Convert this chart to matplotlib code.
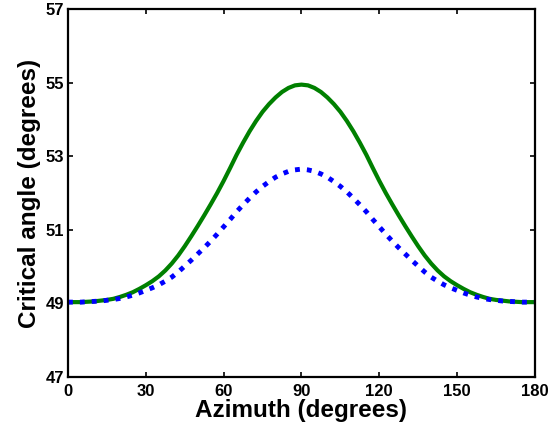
import matplotlib
matplotlib.use('Agg')
import matplotlib.pyplot as plt
import numpy as np

# azimuth in degrees, critical angle
azimuth = [0, 2.5, 5, 7.5, 10, 12.5, 15, 17.5, 20, 22.5, 25, 27.5, 30, 32.5, 35, 37.5,
           40, 42.5, 45, 47.5, 50, 52.5, 55, 57.5, 60, 62.5, 65, 67.5, 70, 72.5, 75,
           77.5, 80, 82.5, 85, 87.5, 90, 92.5, 95, 97.5, 100, 102.5, 105, 107.5, 110,
           112.5, 115, 117.5, 120, 122.5, 125, 127.5, 130, 132.5, 135, 137.5, 140,
           142.5, 145, 147.5, 150, 152.5, 155, 157.5, 160, 162.5, 165, 167.5, 170,
           172.5, 175, 177.5, 180]
green_angle = [49.03, 49.03, 49.03, 49.04, 49.05, 49.07, 49.09, 49.12, 49.17, 49.23,
               49.30, 49.39, 49.49, 49.60, 49.73, 49.89, 50.08, 50.30, 50.55, 50.82,
               51.10, 51.39, 51.69, 52.00, 52.33, 52.68, 53.04, 53.37, 53.68, 53.96,
               54.21, 54.42, 54.60, 54.75, 54.86, 54.93, 54.95, 54.93, 54.86, 54.75,
               54.60, 54.42, 54.21, 53.96, 53.68, 53.37, 53.04, 52.68, 52.33, 52.00,
               51.69, 51.39, 51.10, 50.82, 50.55, 50.30, 50.08, 49.89, 49.73, 49.60,
               49.49, 49.39, 49.30, 49.23, 49.17, 49.12, 49.09, 49.07, 49.05, 49.04,
               49.03, 49.03, 49.03]
blue_angle = [49.03, 49.03, 49.03, 49.04, 49.05, 49.06, 49.08, 49.10, 49.13, 49.17,
              49.22, 49.28, 49.35, 49.42, 49.50, 49.60, 49.71, 49.85, 50.01, 50.17,
              50.34, 50.51, 50.69, 50.88, 51.08, 51.28, 51.49, 51.68, 51.86, 52.03,
              52.18, 52.31, 52.43, 52.52, 52.59, 52.63, 52.65, 52.63, 52.59, 52.52,
              52.43, 52.31, 52.18, 52.03, 51.86, 51.68, 51.49, 51.28, 51.08, 50.88,
              50.69, 50.51, 50.34, 50.17, 50.01, 49.85, 49.71, 49.60, 49.50, 49.42,
              49.35, 49.28, 49.22, 49.17, 49.13, 49.10, 49.08, 49.06, 49.05, 49.04,
              49.03, 49.03, 49.03]
xticks = [0, 30, 60, 90, 120, 150, 180]
yticks = [47, 49, 51, 53, 55, 57]

plt.rcParams['font.family'] = ['Liberation Sans', 'DejaVu Sans']
plt.rcParams['font.weight'] = 'bold'

fig = plt.figure(figsize=(5.59, 4.29), dpi=100)
ax = fig.add_axes([0.1216, 0.1219, 0.8354, 0.8564])

ax.plot(azimuth, green_angle, color=(0, 0.5, 0), lw=3.0)
ax.plot(azimuth, blue_angle, color=(0, 0, 1), lw=3.5, linestyle=(0, (1, 1.45)),
        dash_capstyle='butt')

ax.set_xlim(0, 180)
ax.set_ylim(47, 57)
ax.set_xticks(xticks)
ax.set_yticks(yticks)
ax.tick_params(direction='in', top=True, right=True, length=3.5, width=1.2,
               labelsize=12)
ax.tick_params(axis='x', pad=5)
ax.tick_params(axis='y', pad=3)
for lab in ax.get_xticklabels() + ax.get_yticklabels():
    lab.set_fontweight('bold')
for s in ax.spines.values():
    s.set_linewidth(1.6)

ax.set_xlabel('Azimuth (degrees)', fontsize=17.5, fontweight='bold', labelpad=0)
ax.set_ylabel('Critical angle (degrees)', fontsize=17.5, fontweight='bold', labelpad=3)

fig.savefig('out.png', dpi=100)
